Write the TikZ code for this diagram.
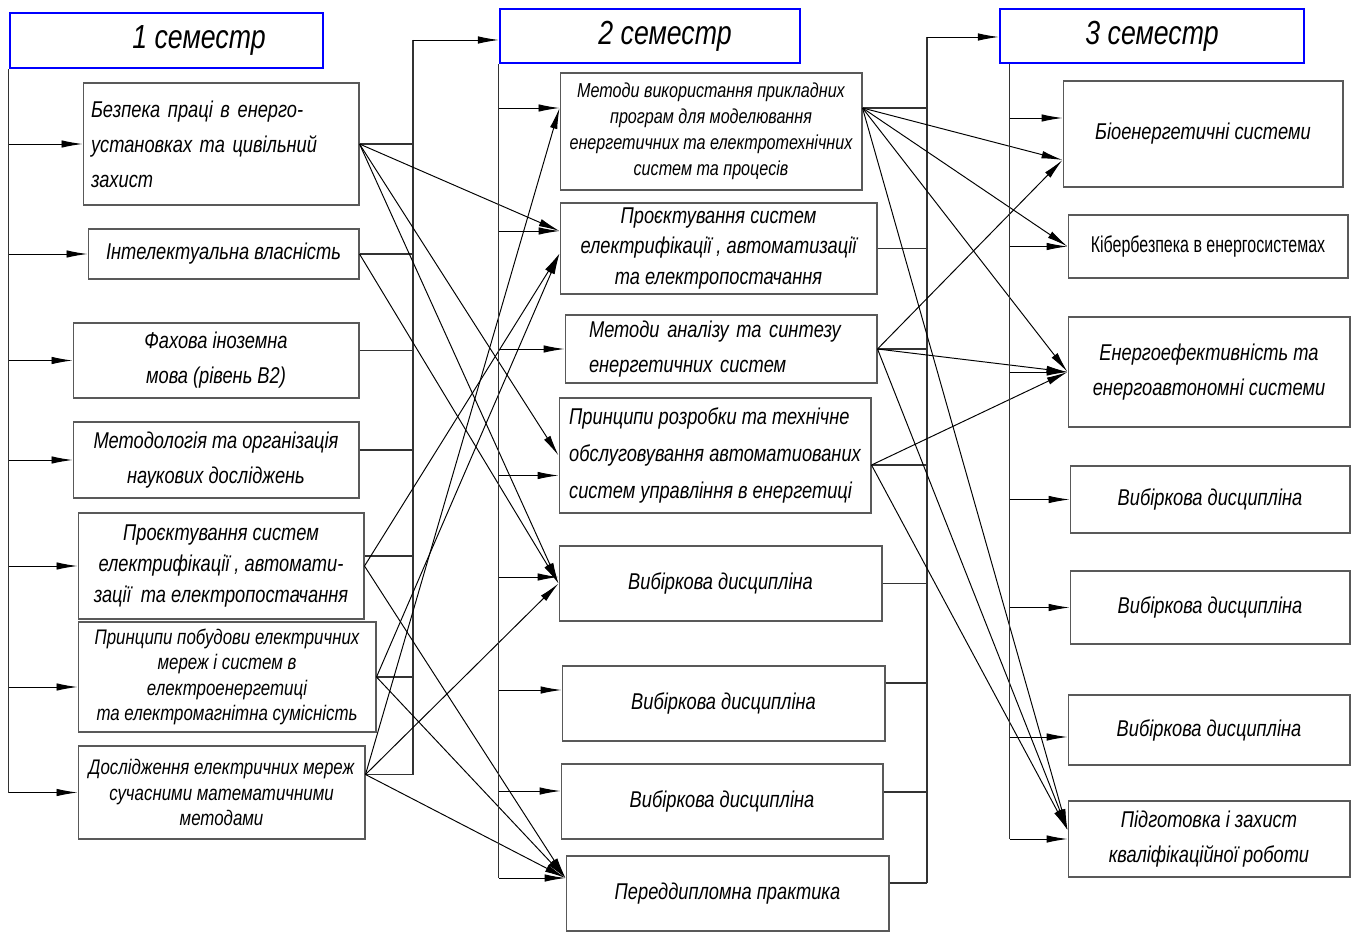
\documentclass[tikz,border=0pt]{standalone}
\usepackage{fontspec}
\setmainfont{Liberation Sans}[FakeStretch=0.8]
\newfontfamily\narrowfont{Liberation Sans}[FakeStretch=0.7]
\usetikzlibrary{arrows.meta}

\tikzset{
  box/.style={draw=black!65, line width=0.6pt, inner sep=2pt, align=center,
    font=\itshape\fontsize{13}{20}\selectfont},
  sem/.style={draw=blue, line width=1.3pt, inner sep=2pt,
    font=\itshape\fontsize{19}{22}\selectfont},
  arr/.style={-{Latex[length=4.2mm,width=1.5mm]}, line width=0.55pt},
  bus/.style={draw=black!80, line width=0.6pt}
}

\begin{document}
\begin{tikzpicture}[x=0.02cm,y=-0.02cm]
	\useasboundingbox (0,0) rectangle (1351,932);

	% semesters
	\node[sem, minimum width=6.26cm, minimum height=1.1cm] (sem1) at (166.5,40.5) {\hspace*{1.3cm}1 семестр};
	\node[sem, minimum width=6cm, minimum height=1.08cm] (sem2) at (650,36) {\hspace*{0.6cm}2 семестр};
	\node[sem, minimum width=6.08cm, minimum height=1.08cm] (sem3) at (1152,36) {3 семестр};

	% 1 семестр
	\node[box, minimum width=5.52cm, minimum height=2.44cm, text width=5.2cm, align=left] (bezpeka) at (221,144)
		{Безпека праці в енерго-\\установках та цивільний\\захист};
	\node[box, minimum width=5.42cm, minimum height=1cm] (intel) at (223.5,254) {Інтелектуальна власність};
	\node[box, minimum width=5.72cm, minimum height=1.5cm] (fakhova) at (216,360.5) {Фахова іноземна\\мова (рівень B2)};
	\node[box, minimum width=5.72cm, minimum height=1.52cm] (metod) at (216,460) {Методологія та організація\\наукових досліджень};
	\node[box, minimum width=5.72cm, minimum height=2.12cm, font=\itshape\fontsize{13}{17.5}\selectfont] (proekt1) at (221,566)
		{Проєктування систем\\електрифікації , автомати-\\зації~ та електропостачання};
	\node[box, minimum width=5.96cm, minimum height=2.2cm, font=\itshape\fontsize{12}{14.5}\selectfont] (pryntsyp) at (227,677)
		{Принципи побудови електричних\\мереж і систем в\\електроенергетиці\\та електромагнітна сумісність};
	\node[box, minimum width=5.74cm, minimum height=1.86cm, font=\itshape\fontsize{12}{14.5}\selectfont] (doslid) at (221.5,792.5)
		{Дослідження електричних мереж\\сучасними математичними\\методами};

	% 2 семестр
	\node[box, minimum width=6.04cm, minimum height=2.34cm, font=\itshape\fontsize{11.5}{14.7}\selectfont] (metprog) at (711,131.5)
		{Методи використання прикладних\\програм для моделювання\\енергетичних та електротехнічних\\систем та процесів};
	\node[box, minimum width=6.34cm, minimum height=1.82cm, font=\itshape\fontsize{13}{17.5}\selectfont] (proekt2) at (718.5,248.5)
		{Проєктування систем\\електрифікації , автоматизації\\та електропостачання};
	\node[box, minimum width=6.24cm, minimum height=1.36cm, text width=5.28cm, align=left] (analiz) at (721,349)
		{Методи аналізу та синтезу\\енергетичних систем};
	\node[box, minimum width=6.24cm, minimum height=2.3cm, align=left, font=\itshape\fontsize{13}{21}\selectfont] (rozrob) at (715,455.5)
		{Принципи розробки та технічне\\обслуговування автоматиованих\\систем управління в енергетиці};
	\node[box, minimum width=6.46cm, minimum height=1.5cm] (vyb1) at (720.5,583.5) {Вибіркова дисципліна};
	\node[box, minimum width=6.46cm, minimum height=1.5cm] (vyb2) at (723.5,703.5) {Вибіркова дисципліна};
	\node[box, minimum width=6.44cm, minimum height=1.5cm] (vyb3) at (722,801.5) {Вибіркова дисципліна};
	\node[box, minimum width=6.46cm, minimum height=1.5cm] (praktyka) at (727.5,893.5) {Переддипломна практика};

	% 3 семестр
	\node[box, minimum width=5.6cm, minimum height=2.12cm] (bioen) at (1203,134) {Біоенергетичні системи};
	\node[box, minimum width=5.6cm, minimum height=1.26cm, font=\narrowfont\fontsize{13}{16}\selectfont] (kiber) at (1208,246.5)
		{Кібербезпека в енергосистемах};
	\node[box, minimum width=5.64cm, minimum height=2.2cm] (enerhoef) at (1209,372) {Енергоефективність та\\енергоавтономні системи};
	\node[box, minimum width=5.6cm, minimum height=1.34cm] (vyb4) at (1210,499.5) {Вибіркова дисципліна};
	\node[box, minimum width=5.6cm, minimum height=1.46cm] (vyb5) at (1210,607.5) {Вибіркова дисципліна};
	\node[box, minimum width=5.64cm, minimum height=1.4cm] (vyb6) at (1209,730) {Вибіркова дисципліна};
	\node[box, minimum width=5.64cm, minimum height=1.52cm] (kvalif) at (1209,839) {Підготовка і захист\\кваліфікаційної роботи};

	% points where the lines meet the boxes
	\coordinate (pryntsyp-in) at ([yshift=-.2cm]pryntsyp.west);
	\coordinate (doslid-out) at ([yshift=.36cm]doslid.east);
	\coordinate (metprog-in) at ([yshift=.47cm]metprog.west);
	\coordinate (metprog-out) at ([yshift=.47cm]metprog.east);
	\coordinate (proekt2-in) at ([yshift=.35cm]proekt2.west);
	\coordinate (rozrob-in) at ([yshift=-.4cm]rozrob.west);
	\coordinate (rozrob-out) at ([yshift=-.19cm]rozrob.east);
	\coordinate (praktyka-in) at ([yshift=.31cm]praktyka.west);
	\coordinate (praktyka-out) at ([yshift=.21cm]praktyka.east);
	\coordinate (bioen-in) at ([yshift=.32cm]bioen.west);
	\coordinate (bioen-x) at ([yshift=-.52cm]bioen.west);
	\coordinate (kvalif-x) at ([yshift=.18cm]kvalif.west);
	\coordinate (bus1) at (413,40);
	\coordinate (bus2) at (927,37);
	\coordinate (bus3) at ([xshift=.22cm]sem3.south west);

	% 1 семестр bus
	\draw[bus] (sem1.south west) -- (sem1.south west |- doslid.west);
	\draw[arr] (sem1.south west |- bezpeka.west) -- (bezpeka.west);
	\draw[arr] (sem1.south west |- intel.west) -- (intel.west);
	\draw[arr] (sem1.south west |- fakhova.west) -- (fakhova.west);
	\draw[arr] (sem1.south west |- metod.west) -- (metod.west);
	\draw[arr] (sem1.south west |- proekt1.west) -- (proekt1.west);
	\draw[arr] (sem1.south west |- pryntsyp-in) -- (pryntsyp-in);
	\draw[arr] (sem1.south west |- doslid.west) -- (doslid.west);

	% into 2 семестр
	\draw[bus] (bus1) -- (bus1 |- doslid-out);
	\draw[arr] (bus1) -- (bus1 -| sem2.west);
	\draw[bus] (bezpeka.east) -- (bezpeka.east -| bus1);
	\draw[bus] (intel.east) -- (intel.east -| bus1);
	\draw[bus] ([yshift=.2cm]fakhova.east) -- ([yshift=.2cm]fakhova.east -| bus1);
	\draw[bus] ([yshift=.2cm]metod.east) -- ([yshift=.2cm]metod.east -| bus1);
	\draw[bus] ([yshift=.2cm]proekt1.east) -- ([yshift=.2cm]proekt1.east -| bus1);
	\draw[bus] (pryntsyp.east) -- (pryntsyp.east -| bus1);
	\draw[bus] (doslid-out) -- (doslid-out -| bus1);

	\draw[arr] (bezpeka.east) -- (proekt2-in);
	\draw[arr] (bezpeka.east) -- (rozrob.west);
	\draw[arr] (bezpeka.east) -- (vyb1.west);
	\draw[arr] (intel.east) -- (vyb1.west);
	\draw[arr] (proekt1.east) -- ([yshift=-.1cm]proekt2.west);
	\draw[arr] (proekt1.east) -- (praktyka-in);
	\draw[arr] (pryntsyp.east) -- ([yshift=-.1cm]proekt2.west);
	\draw[arr] (pryntsyp.east) -- (praktyka-in);
	\draw[arr] (doslid-out) -- (metprog-in);
	\draw[arr] (doslid-out) -- (vyb1.west);
	\draw[arr] (doslid-out) -- (praktyka-in);

	% 2 семестр bus
	\draw[bus] (sem2.south west) -- (sem2.south west |- praktyka-in);
	\draw[arr] (metprog-in -| sem2.south west) -- (metprog-in);
	\draw[arr] (proekt2-in -| sem2.south west) -- (proekt2-in);
	\draw[arr] (analiz.west -| sem2.south west) -- (analiz.west);
	\draw[arr] (rozrob-in -| sem2.south west) -- (rozrob-in);
	\draw[arr] ([yshift=.13cm]vyb1.west -| sem2.south west) -- ([yshift=.13cm]vyb1.west);
	\draw[arr] ([yshift=.27cm]vyb2.west -| sem2.south west) -- ([yshift=.27cm]vyb2.west);
	\draw[arr] ([yshift=.21cm]vyb3.west -| sem2.south west) -- ([yshift=.21cm]vyb3.west);
	\draw[arr] (praktyka-in -| sem2.south west) -- (praktyka-in);

	% into 3 семестр
	\draw[bus] (bus2) -- (bus2 |- praktyka-out);
	\draw[arr] (bus2) -- (bus2 -| sem3.west);
	\draw[bus] (metprog-out) -- (metprog-out -| bus2);
	\draw[bus] (proekt2.east) -- (proekt2.east -| bus2);
	\draw[bus] (analiz.east) -- (analiz.east -| bus2);
	\draw[bus] (rozrob-out) -- (rozrob-out -| bus2);
	\draw[bus] (vyb1.east) -- (vyb1.east -| bus2);
	\draw[bus] ([yshift=.41cm]vyb2.east) -- ([yshift=.41cm]vyb2.east -| bus2);
	\draw[bus] ([yshift=.19cm]vyb3.east) -- ([yshift=.19cm]vyb3.east -| bus2);
	\draw[bus] (praktyka-out) -- (praktyka-out -| bus2);

	\draw[arr] (metprog-out) -- (bioen-x);
	\draw[arr] (metprog-out) -- (kiber.west);
	\draw[arr] (metprog-out) -- (enerhoef.west);
	\draw[arr] (metprog-out) -- (kvalif-x);
	\draw[arr] (analiz.east) -- (bioen-x);
	\draw[arr] (analiz.east) -- (enerhoef.west);
	\draw[arr] (analiz.east) -- (kvalif-x);
	\draw[arr] (rozrob-out) -- (enerhoef.west);
	\draw[arr] (rozrob-out) -- (kvalif-x);

	% 3 семестр bus
	\draw[bus] (bus3) -- (bus3 |- kvalif.west);
	\draw[arr] (bioen-in -| bus3) -- (bioen-in);
	\draw[arr] (kiber.west -| bus3) -- (kiber.west);
	\draw[arr] (enerhoef.west -| bus3) -- (enerhoef.west);
	\draw[arr] (vyb4.west -| bus3) -- (vyb4.west);
	\draw[arr] (vyb5.west -| bus3) -- (vyb5.west);
	\draw[arr] ([yshift=-.14cm]vyb6.west -| bus3) -- ([yshift=-.14cm]vyb6.west);
	\draw[arr] (kvalif.west -| bus3) -- (kvalif.west);
\end{tikzpicture}
\end{document}
